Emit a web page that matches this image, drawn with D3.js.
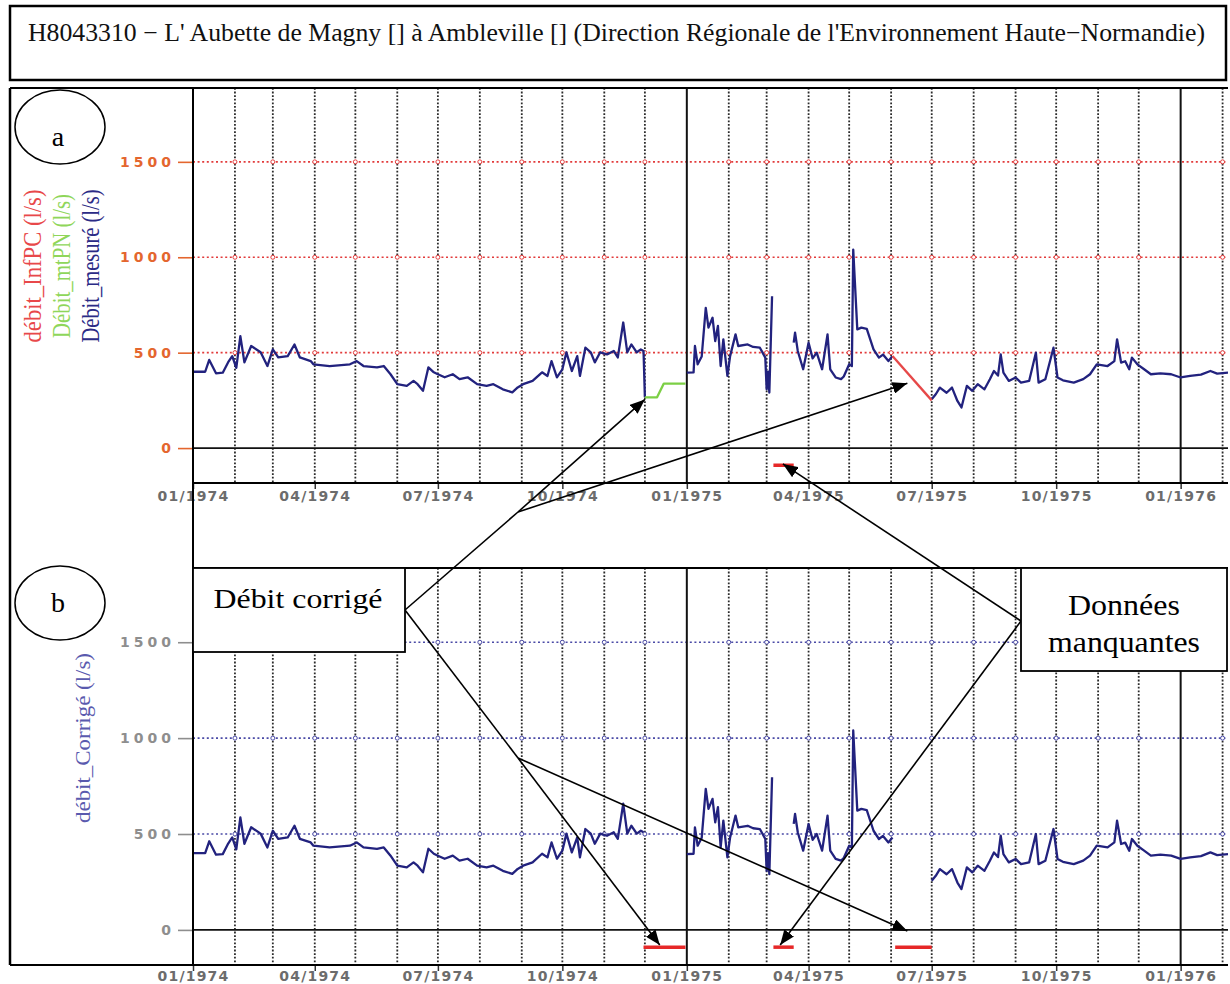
<!DOCTYPE html>
<html>
<head>
<meta charset="utf-8">
<script src="https://cdn.jsdelivr.net/npm/d3@7"></script>
<style>
  body { margin: 0; background: #fff; overflow: hidden; }
  svg { display: block; }
</style>
</head>
<body>
<div class="container"></div>
<script>
// ---- data ----
const titre = "H8043310 \u2212 L' Aubette de Magny [] \u00e0 Ambleville []  (Direction R\u00e9gionale de l'Environnement Haute\u2212Normandie)";

// daily flow (l/s), null = no data
const debitMesure = [
  ["1974-01-01", 400], ["1974-01-10", 400], ["1974-01-13", 462], ["1974-01-18", 392], ["1974-01-23", 395],
  ["1974-01-27", 450], ["1974-01-30", 482], ["1974-02-02", 420], ["1974-02-05", 587], ["1974-02-08", 449],
  ["1974-02-13", 535], ["1974-02-20", 502], ["1974-02-25", 430], ["1974-03-01", 517], ["1974-03-05", 475],
  ["1974-03-12", 482], ["1974-03-17", 543], ["1974-03-21", 475], ["1974-03-29", 456], ["1974-03-31", 439],
  ["1974-04-12", 430], ["1974-04-27", 439], ["1974-05-02", 456], ["1974-05-07", 430], ["1974-05-17", 423],
  ["1974-05-22", 430], ["1974-05-27", 387], ["1974-06-01", 335], ["1974-06-08", 326], ["1974-06-13", 352],
  ["1974-06-16", 335], ["1974-06-20", 300], ["1974-06-24", 423], ["1974-06-28", 397], ["1974-07-01", 387],
  ["1974-07-06", 371], ["1974-07-12", 387], ["1974-07-17", 361], ["1974-07-23", 371], ["1974-07-30", 335],
  ["1974-08-06", 326], ["1974-08-11", 335], ["1974-08-18", 308], ["1974-08-25", 292], ["1974-08-29", 318],
  ["1974-09-02", 335], ["1974-09-09", 352], ["1974-09-16", 397], ["1974-09-20", 378], ["1974-09-23", 456],
  ["1974-09-27", 371], ["1974-10-01", 413], ["1974-10-04", 502], ["1974-10-08", 404], ["1974-10-12", 482],
  ["1974-10-14", 378], ["1974-10-18", 526], ["1974-10-22", 502], ["1974-10-25", 449], ["1974-10-29", 502],
  ["1974-11-03", 491], ["1974-11-08", 509], ["1974-11-11", 475], ["1974-11-15", 658], ["1974-11-18", 502],
  ["1974-11-21", 543], ["1974-11-25", 502], ["1974-11-28", 517], ["1974-11-30", 509], ["1974-12-01", 266],
  ["1974-12-02", null],
  ["1975-01-01", 395], ["1975-01-06", 397], ["1975-01-07", 535], ["1975-01-09", 439], ["1975-01-12", 480],
  ["1975-01-15", 735], ["1975-01-17", 631], ["1975-01-20", 683], ["1975-01-22", 561], ["1975-01-24", 640],
  ["1975-01-26", 430], ["1975-01-28", 570], ["1975-01-31", 378], ["1975-02-02", 482], ["1975-02-06", 596],
  ["1975-02-08", 535], ["1975-02-15", 543], ["1975-02-19", 530], ["1975-02-24", 526], ["1975-02-28", 474],
  ["1975-03-01", 308], ["1975-03-02", 400], ["1975-03-03", 291], ["1975-03-05", 796],
  ["1975-03-06", null],
  ["1975-03-21", 553], ["1975-03-22", 605], ["1975-03-24", 509], ["1975-03-28", 413], ["1975-04-01", 552],
  ["1975-04-04", 470], ["1975-04-07", 500], ["1975-04-11", 413], ["1975-04-15", 596], ["1975-04-17", 413],
  ["1975-04-21", 370], ["1975-04-25", 361], ["1975-04-27", 375], ["1975-05-01", 439], ["1975-05-03", 430],
  ["1975-05-04", 1040], ["1975-05-07", 622], ["1975-05-10", 631], ["1975-05-14", 625], ["1975-05-19", 517],
  ["1975-05-23", 474], ["1975-05-26", 490], ["1975-05-30", 456], ["1975-06-02", 482],
  ["1975-06-03", null],
  ["1975-07-01", 256], ["1975-07-04", 282], ["1975-07-07", 317], ["1975-07-12", 290], ["1975-07-16", 317],
  ["1975-07-20", 247], ["1975-07-23", 213], ["1975-07-27", 326], ["1975-07-31", 300], ["1975-08-04", 335],
  ["1975-08-09", 308], ["1975-08-13", 361], ["1975-08-16", 404], ["1975-08-19", 380], ["1975-08-21", 491],
  ["1975-08-23", 395], ["1975-08-27", 352], ["1975-09-01", 370], ["1975-09-05", 343], ["1975-09-11", 352],
  ["1975-09-16", 500], ["1975-09-18", 343], ["1975-09-23", 361], ["1975-09-29", 526], ["1975-10-02", 370],
  ["1975-10-06", 355], ["1975-10-14", 343], ["1975-10-21", 361], ["1975-10-26", 387], ["1975-10-31", 439],
  ["1975-11-08", 430], ["1975-11-13", 456], ["1975-11-15", 570], ["1975-11-18", 448], ["1975-11-21", 455],
  ["1975-11-24", 413], ["1975-11-26", 474], ["1975-11-30", 439], ["1975-12-05", 413], ["1975-12-10", 387],
  ["1975-12-17", 392], ["1975-12-25", 387], ["1976-01-01", 370], ["1976-01-08", 378], ["1976-01-16", 385],
  ["1976-01-23", 404], ["1976-01-28", 390], ["1976-02-05", 395]
];

// corrected flow: same record, without the drop at the start of the December gap
const debitCorrige = debitMesure.map(d => d[0] === "1974-12-01" ? [d[0], null] : d);

const debitMtPN = [["1974-12-01", 266], ["1974-12-10", 266], ["1974-12-15", 338], ["1974-12-31", 338]];
const debitInfPC = [["1975-06-02", 482], ["1975-07-01", 250]];

const manquantesA = [["1975-03-06", "1975-03-21"]];
const manquantesB = [["1974-11-30", "1974-12-31"], ["1975-03-06", "1975-03-21"], ["1975-06-04", "1975-07-01"]];
const niveauManquant = -90;

const yTicks = [0, 500, 1000, 1500];
const yGrid = [500, 1000, 1500];
const xTicks = ["1974-01-01", "1974-04-01", "1974-07-01", "1974-10-01", "1975-01-01",
                "1975-04-01", "1975-07-01", "1975-10-01", "1976-01-01"];

// arrow targets [date, value]
const cibleCorrigeA = [["1974-12-01", 255], ["1975-06-13", 340]];
const cibleCorrigeB = [["1974-12-12", -79], ["1975-06-13", -6]];
const cibleManqA = ["1975-03-13", -83];
const cibleManqB = ["1975-03-11", -79];

// ---- drawing ----
const width = 1230, height = 984;
const parseDay = d3.utcParse("%Y-%m-%d");
const left = 193, right = 1228;

const svg = d3.select(".container").append("svg")
  .attr("width", width)
  .attr("height", height);

const defs = svg.append("defs");
defs.append("marker")
  .attr("id", "head")
  .attr("markerUnits", "userSpaceOnUse")
  .attr("markerWidth", 16).attr("markerHeight", 12)
  .attr("refX", 15).attr("refY", 6)
  .attr("orient", "auto")
  .append("path").attr("d", "M0,0 L15,6 L0,12 Z").attr("fill", "#000");

let x = d3.scaleUtc()
  .domain([parseDay("1974-01-01"), parseDay("1976-02-05")])
  .range([left, right]);

let panels = [
  { id: "a", top: 88, bottom: 483, grid: "#e23b3b", tick: "#e4662e", pad: 2,
    series: [
      { data: debitMesure, color: "#22227e" },
      { data: debitMtPN, color: "#7ccf45" },
      { data: debitInfPC, color: "#e64848" }
    ],
    gaps: manquantesA },
  { id: "b", top: 568, bottom: 965, grid: "#4a4aa6", tick: "#8e8e8e", pad: 0,
    series: [ { data: debitCorrige, color: "#22227e" } ],
    gaps: manquantesB }
];

let months = d3.utcMonth.range(x.domain()[0], x.domain()[1]).filter(d => d.getUTCMonth() !== 0);
let years = d3.utcYear.range(d3.utcDay.offset(x.domain()[0], 1), x.domain()[1]);

panels.forEach(function (p) {
  p.y = d3.scaleLinear().domain([-183, 1887]).range([p.bottom, p.top]);
  let g = svg.append("g").attr("class", "panel-" + p.id);

  defs.append("clipPath").attr("id", "clip-" + p.id)
    .append("rect")
    .attr("x", left).attr("y", p.top)
    .attr("width", right - left).attr("height", p.bottom - p.top);

  // monthly dotted verticals
  g.selectAll(".vgrid")
    .data(months)
    .enter().append("line")
    .attr("class", "vgrid")
    .attr("x1", d => x(d)).attr("x2", d => x(d))
    .attr("y1", p.top).attr("y2", p.bottom)
    .attr("stroke", "#2a2a2a")
    .attr("stroke-width", 1.8)
    .attr("stroke-dasharray", "1.8,1.8");

  // horizontal dotted grid
  g.selectAll(".hgrid")
    .data(yGrid)
    .enter().append("line")
    .attr("class", "hgrid")
    .attr("x1", left).attr("x2", right)
    .attr("y1", d => p.y(d)).attr("y2", d => p.y(d))
    .attr("stroke", p.grid)
    .attr("stroke-width", 1.6)
    .attr("stroke-dasharray", "2,2.6");

  // little circles where grids cross
  let cross = [];
  yGrid.forEach(v => months.forEach(m => cross.push([m, v])));
  g.selectAll(".cross")
    .data(cross)
    .enter().append("circle")
    .attr("class", "cross")
    .attr("cx", d => x(d[0])).attr("cy", d => p.y(d[1]))
    .attr("r", 2)
    .attr("fill", "#fff")
    .attr("stroke", p.grid)
    .attr("stroke-width", 1);

  // year lines
  g.selectAll(".year")
    .data(years)
    .enter().append("line")
    .attr("class", "year")
    .attr("x1", d => x(d)).attr("x2", d => x(d))
    .attr("y1", p.top).attr("y2", p.bottom)
    .attr("stroke", "#111")
    .attr("stroke-width", 2);

  // zero line
  g.append("line")
    .attr("x1", left).attr("x2", right)
    .attr("y1", p.y(0)).attr("y2", p.y(0))
    .attr("stroke", "#111")
    .attr("stroke-width", 1.6);

  // y axis
  let gy = g.append("g")
    .attr("transform", `translate(${left},0)`)
    .call(d3.axisLeft(p.y).tickValues(yTicks).tickFormat(d3.format("d")).tickSize(15).tickPadding(3));
  gy.select(".domain").remove();
  gy.selectAll("line").attr("stroke", p.tick).attr("stroke-width", 1.6);
  gy.selectAll("text")
    .attr("fill", p.tick)
    .attr("font-family", "DejaVu Sans")
    .attr("font-weight", "bold")
    .attr("font-size", 14)
    .style("letter-spacing", "4px");

  // x axis
  let gx = g.append("g")
    .attr("transform", `translate(0,${p.bottom})`)
    .call(d3.axisBottom(x)
      .tickValues(xTicks.map(parseDay))
      .tickFormat(d3.utcFormat("%m/%Y"))
      .tickSize(6).tickPadding(p.pad));
  gx.select(".domain").remove();
  gx.selectAll("line").attr("stroke", "#333").attr("stroke-width", 1.5);
  gx.selectAll("text")
    .attr("fill", "#6c6c6c")
    .attr("font-family", "DejaVu Sans")
    .attr("font-weight", "bold")
    .attr("font-size", 14)
    .style("letter-spacing", "1.2px");

  // series
  let plot = g.append("g").attr("clip-path", `url(#clip-${p.id})`);
  let line = d3.line()
    .defined(d => d[1] != null)
    .x(d => x(parseDay(d[0])))
    .y(d => p.y(d[1]));

  p.series.forEach(function (s) {
    plot.append("path")
      .datum(s.data)
      .attr("d", line)
      .attr("fill", "none")
      .attr("stroke", s.color)
      .attr("stroke-width", 2.3)
      .attr("stroke-linejoin", "round");
  });

  // missing data bars
  plot.selectAll(".gap")
    .data(p.gaps)
    .enter().append("line")
    .attr("class", "gap")
    .attr("x1", d => x(parseDay(d[0]))).attr("x2", d => x(parseDay(d[1])))
    .attr("y1", p.y(niveauManquant)).attr("y2", p.y(niveauManquant))
    .attr("stroke", "#e62828")
    .attr("stroke-width", 3.5);
});

// ---- frame ----
let frame = svg.append("g").attr("stroke", "#000").attr("fill", "none");
frame.append("rect").attr("x", 10).attr("y", 6).attr("width", 1216).attr("height", 74).attr("stroke-width", 2.5);
frame.append("line").attr("x1", 10).attr("x2", 10).attr("y1", 88).attr("y2", 965).attr("stroke-width", 2.5);
frame.append("line").attr("x1", 10).attr("x2", right).attr("y1", 88).attr("y2", 88).attr("stroke-width", 2);
frame.append("line").attr("x1", 10).attr("x2", right).attr("y1", 965).attr("y2", 965).attr("stroke-width", 2);
frame.append("line").attr("x1", left).attr("x2", left).attr("y1", 88).attr("y2", 965).attr("stroke-width", 2);
frame.append("line").attr("x1", left).attr("x2", right).attr("y1", 483).attr("y2", 483).attr("stroke-width", 1.8);
frame.append("line").attr("x1", left).attr("x2", right).attr("y1", 568).attr("y2", 568).attr("stroke-width", 1.8);

svg.append("text")
  .attr("x", 28).attr("y", 41)
  .attr("font-family", "Liberation Serif, Times New Roman, serif")
  .attr("font-size", 25.5)
  .attr("textLength", 1177)
  .attr("lengthAdjust", "spacingAndGlyphs")
  .attr("fill", "#111")
  .text(titre);

// ---- y titles ----
let titresA = [
  { text: "d\u00e9bit_InfPC (l/s)", color: "#e8484a", bx: 41, len: 153 },
  { text: "D\u00e9bit_mtPN (l/s)", color: "#8fd65a", bx: 70, len: 144 },
  { text: "D\u00e9bit_mesur\u00e9 (l/s)", color: "#2b2b86", bx: 99, len: 153 }
];
svg.selectAll(".ytitleA")
  .data(titresA)
  .enter().append("text")
  .attr("class", "ytitleA")
  .attr("transform", d => `translate(${d.bx},266) rotate(-90)`)
  .attr("text-anchor", "middle")
  .attr("font-family", "Liberation Serif, Times New Roman, serif")
  .attr("font-size", 26)
  .attr("textLength", d => d.len)
  .attr("lengthAdjust", "spacingAndGlyphs")
  .attr("fill", d => d.color)
  .text(d => d.text);

svg.append("text")
  .attr("transform", "translate(90,738) rotate(-90)")
  .attr("text-anchor", "middle")
  .attr("font-family", "Liberation Serif, Times New Roman, serif")
  .attr("font-size", 21)
  .attr("textLength", 170)
  .attr("lengthAdjust", "spacingAndGlyphs")
  .attr("fill", "#5a5aae")
  .text("d\u00e9bit_Corrig\u00e9 (l/s)");

// ---- panel letters ----
[["a", 127, 146], ["b", 603, 612]].forEach(function (l) {
  svg.append("ellipse")
    .attr("cx", 60).attr("cy", l[1]).attr("rx", 45).attr("ry", 37)
    .attr("fill", "#fff").attr("stroke", "#000").attr("stroke-width", 1.5);
  svg.append("text")
    .attr("x", 58).attr("y", l[2])
    .attr("text-anchor", "middle")
    .attr("font-family", "Liberation Serif, Times New Roman, serif")
    .attr("font-size", 28)
    .text(l[0]);
});

// ---- annotations ----
let pa = panels[0], pb = panels[1];
let ann = svg.append("g").attr("stroke", "#000").attr("stroke-width", 1.6);
let boxC = [405, 610], j1 = [518, 512], j2 = [518, 758], boxM = [1021, 621];

ann.append("line").attr("x1", boxC[0]).attr("y1", boxC[1]).attr("x2", j1[0]).attr("y2", j1[1]);
ann.append("line").attr("x1", boxC[0]).attr("y1", boxC[1]).attr("x2", j2[0]).attr("y2", j2[1]);
cibleCorrigeA.forEach(function (c) {
  ann.append("line").attr("x1", j1[0]).attr("y1", j1[1])
    .attr("x2", x(parseDay(c[0]))).attr("y2", pa.y(c[1]))
    .attr("marker-end", "url(#head)");
});
cibleCorrigeB.forEach(function (c) {
  ann.append("line").attr("x1", j2[0]).attr("y1", j2[1])
    .attr("x2", x(parseDay(c[0]))).attr("y2", pb.y(c[1]))
    .attr("marker-end", "url(#head)");
});
ann.append("line").attr("x1", boxM[0]).attr("y1", boxM[1])
  .attr("x2", x(parseDay(cibleManqA[0]))).attr("y2", pa.y(cibleManqA[1]))
  .attr("marker-end", "url(#head)");
ann.append("line").attr("x1", boxM[0]).attr("y1", boxM[1])
  .attr("x2", x(parseDay(cibleManqB[0]))).attr("y2", pb.y(cibleManqB[1]))
  .attr("marker-end", "url(#head)");

// boxes
svg.append("rect").attr("x", 193).attr("y", 568).attr("width", 212).attr("height", 84)
  .attr("fill", "#fff").attr("stroke", "#000").attr("stroke-width", 1.8);
svg.append("text")
  .attr("x", 298).attr("y", 608)
  .attr("text-anchor", "middle")
  .attr("font-family", "Liberation Serif, Times New Roman, serif")
  .attr("font-size", 28)
  .attr("textLength", 169)
  .attr("lengthAdjust", "spacingAndGlyphs")
  .text("D\u00e9bit corrig\u00e9");

svg.append("rect").attr("x", 1021).attr("y", 568).attr("width", 206).attr("height", 103)
  .attr("fill", "#fff").attr("stroke", "#000").attr("stroke-width", 1.8);
svg.append("text")
  .attr("x", 1124).attr("y", 615)
  .attr("text-anchor", "middle")
  .attr("font-family", "Liberation Serif, Times New Roman, serif")
  .attr("font-size", 29)
  .attr("textLength", 112)
  .attr("lengthAdjust", "spacingAndGlyphs")
  .text("Donn\u00e9es");
svg.append("text")
  .attr("x", 1124).attr("y", 652)
  .attr("text-anchor", "middle")
  .attr("font-family", "Liberation Serif, Times New Roman, serif")
  .attr("font-size", 29)
  .attr("textLength", 152)
  .attr("lengthAdjust", "spacingAndGlyphs")
  .text("manquantes");
</script>
</body>
</html>
